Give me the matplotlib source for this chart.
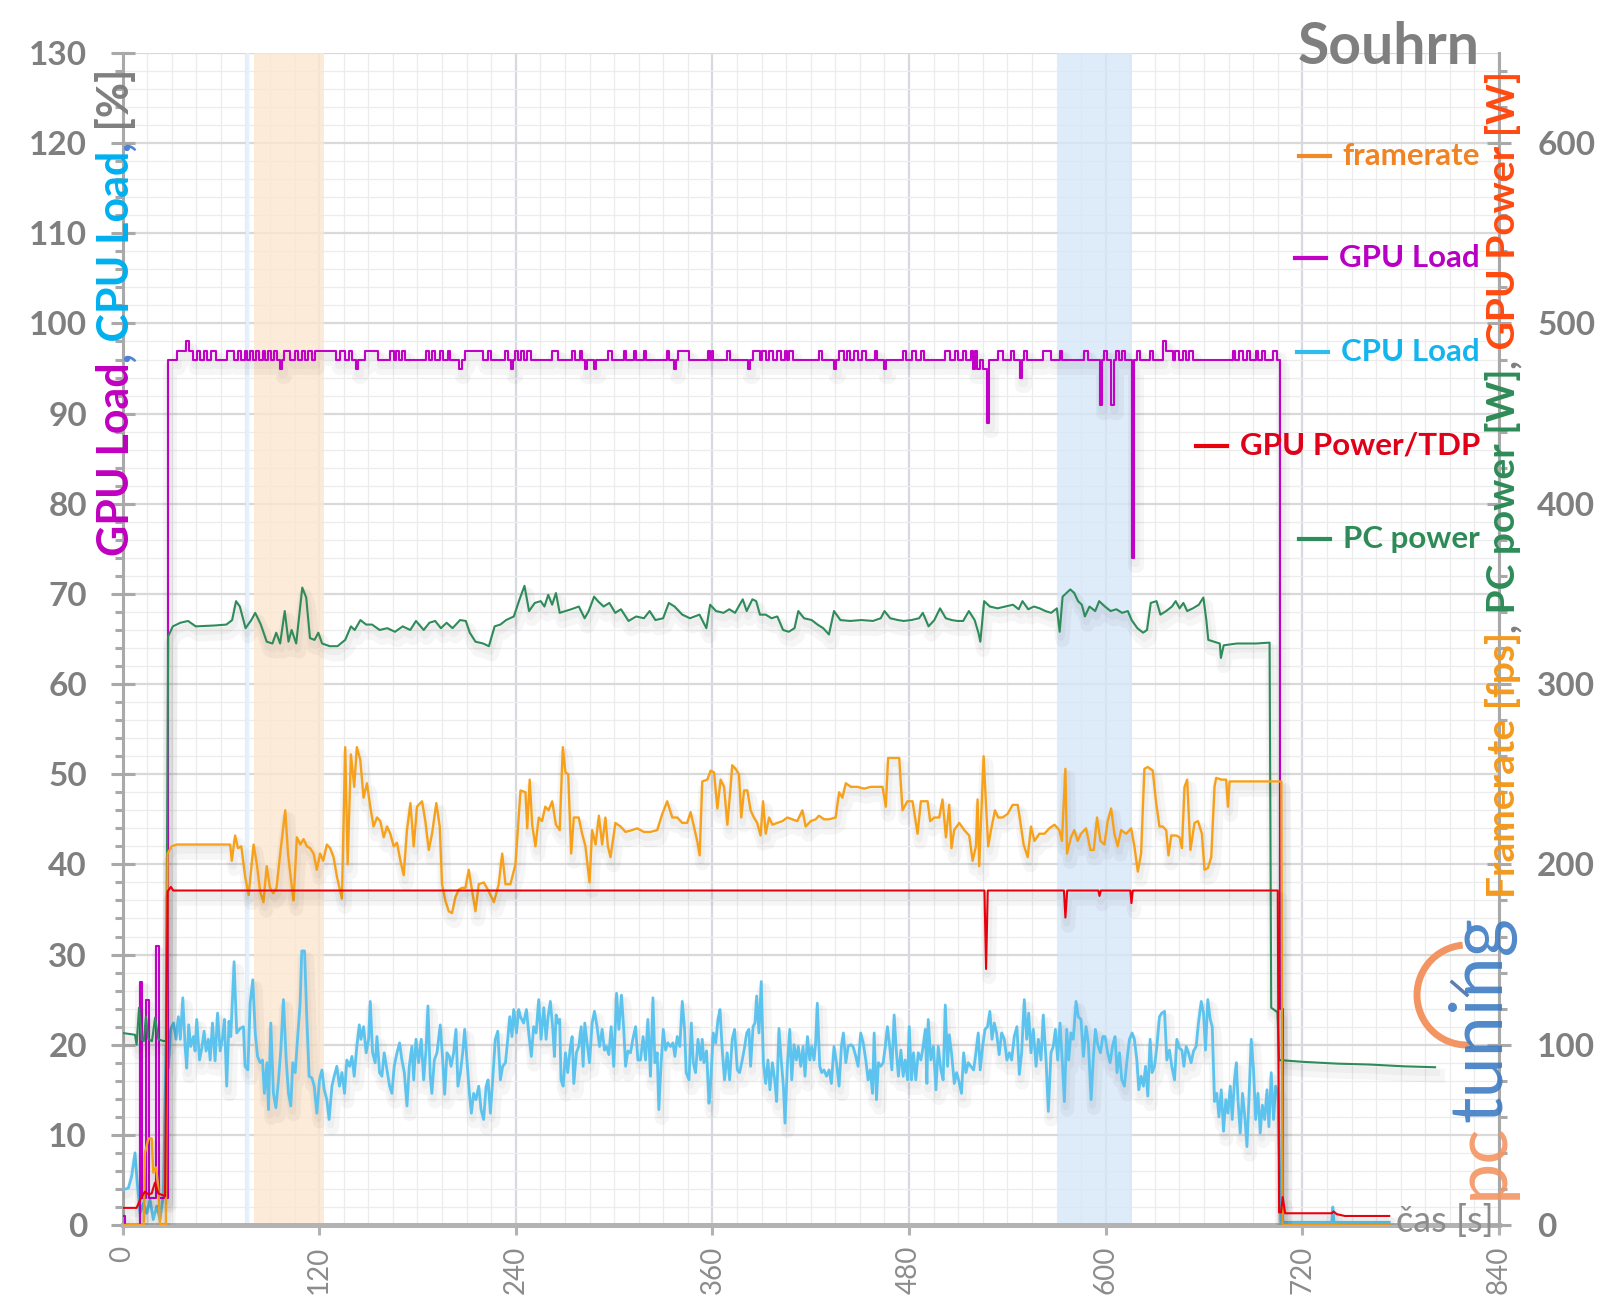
import numpy as np
import matplotlib
matplotlib.use("Agg")
import matplotlib.pyplot as plt
import matplotlib.patheffects as pe
from matplotlib.lines import Line2D
from matplotlib.patches import Arc
from matplotlib.ticker import MultipleLocator

plt.rcParams['font.family'] = ['Lato', 'DejaVu Sans']

# ---------------- data (time [s], value) ----------------
x_ticks = [0, 120, 240, 360, 480, 600, 720, 840]
left_ticks = list(range(0, 131, 10))
right_ticks = list(range(0, 601, 100))
band_orange = (80, 123)
band_blue = (571, 616)

# GPU load [%] (change points, held until next point)
gpu_load = [(0, 1), (1.5, 0), (10.5, 27), (12, 3), (14.5, 25), (16, 3), (20.5, 31), (22, 3), (27.5, 96),
    (33, 97), (38.5, 98), (40.5, 97), (43, 96), (45.5, 97), (47.5, 96), (49.5, 97), (51.5, 96), (54, 97), (57, 96),
    (64, 97), (68, 96), (70.5, 97), (72.5, 96), (74.5, 97), (76, 96), (78, 97), (79.5, 96), (81.5, 97), (83, 96),
    (85.5, 97), (87, 96), (89, 97), (90.5, 96), (92.5, 97), (94, 96), (96, 95), (97.5, 96), (98.5, 97), (102.5, 96),
    (105, 97), (107, 96), (109.5, 97), (111.5, 96), (113.5, 97), (115.5, 96), (117.5, 97), (130.5, 96), (132.5, 97),
    (136, 96), (138, 97), (140, 96), (142.5, 95), (144, 96), (148, 97), (156, 96),
    (163.5, 97), (165.5, 96), (167, 97), (168.5, 96), (170.5, 97), (172.5, 96),
    (185.5, 97), (187, 96), (189, 97), (190.5, 96), (194, 97), (195.5, 96), (198.5, 97), (200, 96), (205.5, 95),
    (207, 96), (209, 97), (220, 96), (223, 97), (225, 96),
    (233.5, 97), (235.5, 96), (237, 95), (238.5, 96), (239.5, 97), (241.5, 96), (243, 97), (245, 96), (247, 97), (249, 96),
    (262, 97), (266, 96), (274.5, 97), (276, 96), (279, 97), (280.5, 96), (282, 95), (283.5, 96), (287.5, 95), (289, 96),
    (296.5, 97), (298.5, 96), (306, 97), (307.5, 96), (312, 97), (313.5, 96), (318, 97), (319.5, 96), (332, 97),
    (333.5, 96), (336.5, 95), (338, 96), (339, 97), (346, 96),
    (357, 97), (358.5, 96), (359.5, 97), (360.5, 96), (369, 97), (371, 96), (381.5, 95), (383, 96), (385, 97), (389, 96),
    (390.5, 97), (392.5, 96), (394.5, 97), (397, 96), (399.5, 97), (402, 96), (404, 97), (405.5, 96), (407, 97), (409, 96),
    (425, 97), (427, 96), (434, 95), (435.5, 96), (437, 97), (440, 96), (442, 97), (444, 96), (446.5, 97), (449, 96),
    (451.5, 97), (453.5, 96), (459, 97), (460.5, 96), (464.5, 95), (466, 96),
    (476.5, 97), (478, 96), (482, 97), (484, 96), (487, 97), (489, 96),
    (502, 97), (505, 96), (508, 97), (510, 96), (513, 97), (515, 96), (517.5, 97), (519, 95), (520, 97), (521.5, 95),
    (523, 96), (525, 95), (527.5, 89), (529, 96), (534, 97), (537.5, 96), (542, 97), (544, 96), (547.5, 94), (549, 96),
    (550, 97), (552, 96), (562, 97), (566.5, 96), (572, 97), (573.5, 96), (586.5, 97), (589, 96), (596.5, 91), (598, 96),
    (599, 97), (601, 96), (603.5, 91), (605, 96), (606, 97), (608, 96), (610, 97), (612, 96), (616, 74), (617.5, 96),
    (619, 97), (621, 96), (627, 97), (629, 96), (635, 98), (637, 97), (641, 96), (642.5, 97), (645, 96), (647, 97),
    (649, 96), (651, 97), (653, 96), (677.5, 97), (679, 96), (681.5, 97), (683.5, 96), (686, 97), (688, 96),
    (691.5, 97), (693, 96), (695.5, 97), (697, 96), (702, 97), (704.5, 96), (706.5, 24), (708, 0), (773, 0)]

# CPU load [%]
cpu_load = [(0.5, 3.9), (3.6, 4.1), (5.6, 5.4), (7.6, 8.0), (9.0, 4.7), (10.7, 1.3), (12.7, 2.4), (14.8, 1.3),
    (16.8, 2.8), (18.8, 0.6), (20.9, 2.1), (22.9, 0.6), (25.0, 3.5), (26.6, 20.0), (28.0, 17.4), (29.4, 21.7),
    (31.1, 22.4), (32.7, 20.6), (34.1, 23.1), (35.3, 20.6), (36.8, 25.2), (38.2, 19.8), (39.2, 17.4), (40.4, 22.2),
    (41.6, 19.8), (43.3, 20.9), (44.3, 19.3), (45.3, 22.8), (47.0, 18.3), (48.4, 19.6), (49.8, 21.5), (51.0, 19.3),
    (52.4, 20.6), (53.5, 18.3), (54.9, 22.4), (56.5, 18.2), (58.0, 23.5), (59.6, 19.3), (61.0, 20.7), (62.2, 22.8),
    (63.6, 15.4), (65.0, 22.6), (66.1, 20.9), (68.1, 29.2), (69.7, 21.3), (71.8, 21.8), (73.8, 22.0), (74.8, 17.6),
    (76.5, 17.2), (77.9, 24.6), (79.5, 27.2), (81.0, 21.3), (82.4, 18.7), (84.0, 18.0), (85.4, 18.3), (86.6, 14.6),
    (88.1, 18.0), (89.1, 12.8), (90.5, 22.4), (92.1, 14.6), (93.6, 13.0), (95.2, 16.1), (96.6, 19.4), (98.2, 25.0),
    (99.9, 18.3), (101.3, 14.6), (102.7, 13.2), (103.9, 18.0), (105.4, 16.9), (106.8, 20.6), (108.4, 24.6),
    (109.4, 30.4), (111.1, 30.4), (112.5, 22.8), (113.9, 16.5), (115.6, 16.3), (117.0, 15.4), (118.6, 12.4),
    (120.2, 16.1), (121.7, 17.2), (123.1, 15.0), (124.7, 13.9), (126.1, 11.7), (127.8, 15.4), (129.2, 16.5),
    (130.8, 17.6), (132.4, 15.4), (133.9, 16.9), (135.5, 14.6), (136.9, 18.3), (138.6, 17.6), (140.0, 18.7),
    (141.4, 16.5), (143.0, 19.8), (144.5, 22.2), (145.5, 20.6), (147.1, 22.0), (148.7, 19.1), (150.2, 20.6),
    (151.2, 24.8), (152.6, 19.1), (154.2, 18.0), (155.3, 20.9), (156.9, 16.9), (158.3, 16.5), (159.7, 19.1),
    (161.4, 17.2), (163.0, 15.4), (164.4, 14.6), (165.8, 17.6), (167.5, 19.1), (169.1, 20.2), (170.5, 18.3),
    (172.0, 16.9), (173.6, 13.2), (175.0, 17.6), (176.6, 19.8), (177.7, 16.1), (179.1, 20.6), (180.7, 18.0),
    (182.3, 20.6), (183.8, 16.1), (185.2, 19.4), (186.4, 24.3), (187.8, 16.5), (188.8, 14.6), (190.3, 18.3),
    (191.9, 19.1), (193.9, 22.2), (195.4, 18.3), (196.6, 14.5), (198.0, 19.1), (199.4, 18.7), (200.5, 17.6),
    (202.1, 19.1), (203.5, 21.7), (204.7, 15.4), (206.2, 16.9), (207.6, 19.1), (208.8, 21.7), (210.2, 18.3),
    (211.7, 14.6), (212.9, 12.4), (214.3, 14.6), (215.7, 13.9), (217.4, 15.4), (218.8, 12.8), (220.4, 11.7),
    (221.9, 15.4), (223.1, 16.1), (224.5, 12.4), (225.9, 16.1), (227.5, 20.6), (229.0, 21.5), (230.6, 16.1),
    (232.0, 17.6), (233.7, 18.0), (235.1, 20.6), (236.3, 23.1), (237.7, 20.9), (238.7, 23.9), (240.4, 21.3),
    (241.8, 23.9), (242.8, 23.1), (244.8, 22.4), (246.5, 23.9), (247.9, 21.3), (249.5, 18.7), (250.9, 22.0),
    (252.4, 21.3), (254.0, 25.0), (255.4, 20.6), (257.1, 24.1), (258.5, 20.6), (259.7, 23.1), (261.1, 24.8),
    (262.6, 21.7), (263.6, 18.7), (264.6, 23.3), (265.8, 22.4), (266.8, 22.8), (267.6, 16.1), (268.9, 15.4),
    (270.3, 19.1), (271.7, 16.9), (273.3, 19.8), (274.4, 20.9), (275.4, 15.7), (277.0, 19.1), (278.4, 19.8),
    (279.9, 22.0), (281.1, 17.6), (282.1, 22.4), (283.5, 20.2), (285.0, 18.0), (286.6, 22.4), (288.0, 23.7),
    (289.6, 22.0), (291.1, 19.8), (292.7, 21.7), (294.1, 19.4), (295.3, 19.8), (296.8, 18.9), (298.2, 22.0),
    (299.8, 17.6), (301.5, 25.7), (302.9, 21.7), (304.5, 25.5), (305.9, 21.7), (307.0, 17.6), (308.4, 19.3),
    (310.0, 19.1), (311.4, 20.6), (313.1, 22.0), (314.5, 18.3), (316.1, 18.3), (317.7, 20.9), (319.2, 18.3),
    (320.6, 22.8), (322.2, 16.5), (323.7, 25.2), (324.9, 18.0), (326.3, 19.1), (327.3, 12.8), (328.7, 18.0),
    (330.0, 21.7), (331.4, 19.4), (332.8, 20.2), (334.4, 19.8), (335.9, 20.2), (337.1, 18.7), (338.5, 20.9),
    (340.1, 19.8), (341.6, 24.8), (343.0, 21.7), (344.0, 16.9), (345.7, 16.1), (347.1, 22.4), (348.3, 18.0),
    (349.7, 16.9), (351.2, 20.6), (352.8, 18.3), (353.8, 20.6), (354.8, 18.0), (356.4, 19.3), (357.9, 13.5),
    (358.9, 15.7), (360.5, 21.3), (362.0, 20.2), (363.4, 22.8), (364.6, 23.9), (366.0, 19.4), (367.4, 16.1),
    (369.0, 19.1), (370.5, 16.1), (372.1, 20.6), (373.5, 21.7), (375.2, 17.2), (376.6, 16.9), (378.2, 18.3),
    (379.7, 19.8), (380.9, 21.3), (382.3, 21.7), (383.3, 17.6), (384.8, 22.0), (386.0, 22.4), (387.0, 25.4),
    (388.4, 21.3), (389.8, 27.0), (391.1, 18.0), (392.5, 15.7), (393.9, 18.3), (395.1, 15.0), (396.6, 18.0),
    (398.0, 16.1), (399.2, 13.7), (400.6, 21.8), (402.1, 18.0), (403.3, 15.4), (404.3, 11.3), (405.7, 17.6),
    (407.2, 21.7), (408.4, 16.1), (409.8, 20.0), (411.2, 18.3), (412.4, 19.8), (413.9, 17.6), (415.3, 19.8),
    (416.5, 16.5), (418.0, 20.9), (419.4, 18.3), (420.6, 19.8), (422.0, 18.3), (423.0, 20.2), (424.0, 24.6),
    (425.5, 17.6), (426.7, 16.9), (428.1, 17.2), (429.6, 16.5), (431.2, 17.2), (432.6, 15.7), (434.2, 19.8),
    (435.7, 18.0), (437.3, 15.4), (438.7, 19.8), (439.9, 21.3), (441.4, 18.0), (442.8, 19.8), (444.4, 20.0),
    (445.8, 19.8), (447.5, 18.7), (448.9, 17.6), (450.5, 21.3), (452.0, 20.2), (453.6, 18.3), (455.0, 16.1),
    (456.3, 17.2), (457.7, 14.6), (458.7, 21.3), (460.1, 13.9), (461.3, 18.0), (462.7, 17.6), (464.2, 18.0),
    (465.5, 19.8), (466.8, 22.0), (468.2, 19.8), (469.5, 17.2), (470.9, 23.3), (472.3, 19.1), (473.5, 16.5),
    (475.0, 19.4), (476.4, 16.5), (477.6, 18.3), (479.1, 16.1), (480.1, 22.0), (481.5, 16.1), (482.7, 19.1),
    (484.1, 16.1), (485.6, 19.1), (487.2, 18.3), (488.6, 19.8), (489.9, 21.7), (490.9, 15.7), (491.7, 22.8),
    (493.3, 18.3), (494.9, 19.8), (496.4, 15.0), (497.8, 19.8), (499.4, 17.2), (500.8, 16.1), (502.1, 24.4),
    (503.5, 17.6), (504.5, 21.1), (505.9, 19.1), (507.6, 15.7), (509.0, 16.9), (510.2, 16.1), (512.0, 14.6),
    (513.3, 19.1), (514.7, 16.9), (516.1, 18.0), (517.7, 17.6), (519.4, 17.2), (520.8, 19.1), (522.2, 21.3),
    (523.4, 17.2), (524.9, 19.8), (526.3, 21.7), (527.9, 22.0), (529.3, 23.7), (530.6, 20.6), (532.0, 22.4),
    (533.4, 21.3), (535.0, 18.9), (536.5, 21.3), (538.1, 20.6), (539.7, 18.3), (541.2, 19.1), (542.6, 18.3),
    (544.2, 20.9), (545.8, 22.0), (547.3, 16.7), (548.7, 19.1), (550.3, 25.0), (551.8, 20.6), (553.0, 23.5),
    (554.4, 19.1), (555.8, 21.7), (557.5, 17.6), (558.9, 20.6), (560.5, 18.3), (561.9, 23.3), (563.6, 18.3),
    (565.0, 12.6), (566.6, 19.1), (568.0, 19.8), (569.3, 21.7), (570.7, 18.3), (572.1, 22.4), (573.7, 17.6),
    (574.8, 13.7), (576.2, 21.7), (577.4, 18.3), (578.8, 21.3), (580.2, 20.6), (581.9, 24.8), (583.3, 23.1),
    (584.9, 22.8), (586.4, 18.7), (588.0, 22.0), (589.4, 20.2), (591.1, 13.9), (592.5, 18.7), (593.7, 21.7),
    (595.1, 20.0), (596.8, 19.1), (598.2, 20.9), (599.6, 20.9), (601.2, 19.1), (602.7, 18.0), (604.3, 20.0),
    (605.7, 20.9), (606.9, 16.9), (608.4, 19.1), (609.8, 16.1), (611.4, 15.4), (613.0, 18.3), (614.5, 20.6),
    (616.1, 21.3), (617.5, 20.6), (619.0, 18.3), (620.2, 15.0), (621.6, 16.5), (623.0, 15.4), (624.3, 17.6),
    (625.7, 14.3), (627.1, 20.6), (628.3, 16.9), (629.8, 17.6), (631.2, 19.8), (632.8, 23.1), (634.2, 23.5),
    (635.9, 23.7), (637.3, 18.3), (638.9, 19.4), (640.3, 17.6), (642.0, 16.1), (643.4, 20.6), (645.0, 19.6),
    (646.5, 19.4), (647.7, 17.6), (649.1, 19.8), (650.5, 19.1), (652.1, 18.0), (653.6, 19.3), (655.2, 19.8),
    (656.6, 22.4), (658.3, 24.8), (659.7, 23.5), (660.9, 19.4), (662.3, 25.0), (663.8, 22.8), (665.0, 22.0),
    (666.4, 13.7), (667.8, 14.6), (669.1, 12.0), (670.5, 15.0), (671.9, 10.4), (673.3, 13.9), (674.6, 12.4),
    (676.0, 15.4), (677.2, 11.7), (678.6, 16.1), (679.7, 18.0), (680.7, 13.9), (682.1, 10.2), (683.5, 14.6),
    (684.7, 12.4), (686.2, 8.7), (687.4, 13.9), (688.8, 20.6), (690.2, 17.2), (691.5, 11.7), (692.9, 14.6),
    (694.3, 10.2), (695.6, 13.3), (697.0, 11.7), (698.4, 15.0), (699.6, 10.9), (701.0, 16.9), (702.4, 11.7),
    (703.7, 15.4), (705.1, 14.6), (706.8, 0.3), (738.0, 0.3), (738.6, 2.0), (739.3, 0.3), (773.0, 0.3)]

# framerate [fps]
framerate = [(0, 0), (13, 0), (13.7, 40), (15.8, 48), (17.8, 48), (18.8, 29), (20.5, 32), (21.9, 20), (22.9, 0),
    (26.5, 0), (27.5, 206), (30, 210), (33, 211), (65.7, 211), (66.7, 202), (68.7, 216), (70.5, 209), (72.5, 210),
    (74.9, 193), (77, 183), (80, 211), (82, 200), (84, 185), (86, 179), (88, 199), (90, 187), (92, 184), (94, 187),
    (96, 204), (99.3, 230), (101, 206), (103.4, 187), (104.4, 180), (106.4, 215), (108.5, 211), (110.5, 214),
    (112.5, 210), (114.5, 209), (116.6, 206), (118.6, 197), (120.6, 206), (122.5, 202), (124.7, 211), (126.7, 209),
    (128.8, 204), (130.9, 193), (133.9, 181), (135.9, 265), (137.4, 200), (139.4, 261), (141.4, 243), (143, 265),
    (145.1, 258), (147.1, 237), (149.2, 245), (151.2, 232), (153.2, 221), (155.3, 226), (157.3, 224), (159.4, 215),
    (161.4, 221), (163.4, 217), (165.5, 210), (167.5, 212), (169.6, 202), (171.6, 194), (173.6, 219), (175.7, 234),
    (177.7, 210), (179.7, 232), (182.8, 235), (184.8, 224), (186.9, 208), (188.9, 217), (191.5, 234), (193.6, 221),
    (195, 189), (197, 180), (199.1, 174), (201.1, 173), (203.2, 182), (205.2, 186), (207.2, 187), (209.3, 187),
    (211.3, 197), (213.4, 185), (215.4, 174), (217.4, 189), (220.5, 190), (223.5, 185), (226.6, 179), (229.6, 189),
    (231.7, 206), (233.7, 189), (236.7, 189), (239.8, 200), (242.9, 241), (245.9, 240), (247, 220), (248.5, 247),
    (250, 222), (252, 210), (254, 226), (256, 224), (258, 232), (260, 230), (262.2, 235), (264.5, 222),
    (266.8, 219), (268.7, 265), (270.3, 251), (272, 250), (273.8, 206), (275.4, 226), (278.4, 226), (280.5, 217),
    (282.5, 210), (285, 190), (286.6, 219), (288.7, 211), (290.7, 227), (292.7, 211), (294.7, 226), (296.2, 210),
    (297.8, 204), (300.8, 223), (303.9, 221), (307, 218), (311, 219), (314.1, 220), (318.2, 218), (322.2, 218),
    (326.3, 219), (329.4, 228), (332.4, 235), (335.5, 226), (338.5, 226), (341.6, 223), (344.6, 223), (346.7, 229),
    (348.7, 221), (350.7, 213), (352.2, 205), (353.8, 246), (356.9, 247), (358.9, 252), (361, 251), (363, 231),
    (365, 247), (367.1, 243), (369.1, 222), (371.1, 243), (372.1, 255), (374.1, 253), (376.2, 250), (377.6, 226),
    (379.3, 241), (381.3, 241), (383.3, 230), (385.3, 226), (387.3, 223), (389.4, 216), (390.9, 235), (392.5, 217),
    (394.6, 226), (396.6, 222), (399.6, 223), (402.7, 224), (405.7, 226), (408.7, 225), (411.8, 224), (414.9, 230),
    (416.9, 221), (420, 224), (423, 225), (425, 227), (428.1, 225), (431.2, 225), (435.2, 226), (437.3, 240),
    (439.3, 237), (441.4, 245), (444.5, 243), (448.5, 243), (452.6, 242), (456.7, 243), (460.7, 243), (463.8, 243),
    (465.8, 232), (467.2, 259), (470, 259), (474, 259), (476, 230), (479, 235), (482.1, 235), (485.2, 217),
    (487.2, 235), (489.3, 235), (491.3, 235), (492.9, 224), (495.4, 226), (498.4, 226), (500.4, 236), (502.5, 215),
    (504.5, 233), (505.9, 209), (507.5, 219), (510.6, 223), (513.7, 219), (516.7, 216), (518.8, 202), (520.8, 210),
    (521.8, 236), (522.8, 199), (525.5, 260), (526.9, 234), (528.3, 210), (530, 219), (532.4, 230), (534.4, 226),
    (537.1, 226), (540.1, 228), (543.2, 233), (546.3, 233), (548, 223), (549.9, 211), (552.4, 204), (554.4, 221),
    (556.5, 213), (559.5, 217), (562.6, 217), (565.6, 220), (568.7, 222), (571.7, 219), (573.3, 213), (575.4, 253),
    (576.4, 206), (578.8, 215), (580.8, 219), (582.9, 213), (584.9, 217), (588, 220), (590.7, 208), (592.7, 208),
    (594.7, 226), (596.8, 213), (599.2, 211), (601.2, 224), (603.3, 231), (605.3, 217), (607.3, 210), (609.4, 219),
    (612.5, 217), (615.5, 220), (617.5, 210), (619.6, 196), (621.6, 206), (623.6, 253), (625.7, 254), (628.7, 252),
    (630.8, 234), (632.8, 221), (634.8, 221), (636.9, 219), (638.3, 205), (640, 216), (643.1, 216), (645.1, 215),
    (646.5, 209), (648.1, 243), (649.7, 247), (651.7, 208), (654.2, 223), (656.3, 224), (658.7, 217), (660.3, 197),
    (662.4, 198), (664.4, 204), (666.4, 243), (667.4, 248), (670.5, 247), (673.5, 247), (674.6, 232), (675.6, 246),
    (680, 246), (707.2, 246), (708, 0), (773, 0)]

# GPU power [W]
gpu_power = [(0, 9.5), (8.6, 9.5), (10.7, 14), (13.7, 18.5), (15.8, 17), (17.8, 17.5), (19.8, 23.5), (21.9, 17.5),
    (26, 16), (27.5, 185), (29.5, 187.5), (31, 185.5), (526, 185.5), (527, 142), (528, 185.5), (574.5, 185.5),
    (575.4, 170.5), (576.5, 185.5), (595.5, 185.5), (596.2, 182.5), (597, 185.5), (615, 185.5), (615.7, 178.5),
    (616.5, 185.5), (705, 185.5), (705.8, 7), (707, 7), (708, 15.5), (709.5, 6.5), (738, 6.5), (739, 7.5),
    (741, 6), (746, 5), (773, 5)]

# PC power [W]
pc_power = [(0, 106.5), (7.6, 105.5), (8.6, 100), (10.1, 120.5), (11.7, 103), (13, 102), (14.3, 115.5), (15.8, 103),
    (18, 102), (19.9, 115), (21.9, 103), (25, 102), (26.5, 102), (27.9, 326.5), (30.7, 332), (35.3, 334), (40, 335),
    (44.7, 332), (56.4, 332.5), (63.4, 333), (66.9, 335.5), (69.3, 346), (71.6, 343), (75.1, 331), (78.6, 335.5),
    (81, 339.5), (84.4, 333), (88, 323.5), (91.5, 322.5), (93.8, 328.5), (96.2, 322.5), (99, 340.5), (101.3, 323.5),
    (103.2, 330), (106, 322.5), (109.7, 353.5), (112.1, 348), (114.4, 325.5), (117.2, 324.5), (119.5, 328.5),
    (121.8, 322.5), (126.5, 321), (131.2, 321), (135.9, 324.5), (139.4, 332), (141.7, 330), (145.2, 335.5),
    (148.7, 333), (152.3, 333), (156.9, 330), (161.6, 331), (166.3, 329), (171, 332), (175.6, 330), (179.1, 335),
    (183.8, 330), (187.3, 334), (190.8, 335), (194.3, 331), (197.8, 334), (201.4, 331), (206, 335.5), (209.5, 335),
    (211.9, 328.5), (215.4, 323.5), (220.1, 322.5), (223.6, 321), (227.1, 332), (230.6, 333), (234.1, 335.5),
    (238.8, 337.5), (242.3, 347), (245.3, 354.5), (248.1, 340.5), (251.6, 345), (255.2, 346), (257.5, 343),
    (259.8, 349.5), (262.2, 344), (264.5, 350.5), (266.8, 339.5), (270.3, 340.5), (273.9, 341.5), (278.5, 343),
    (282, 336.5), (284.5, 340.5), (287.8, 348.5), (290.1, 346), (293.6, 343), (297.1, 345), (300.7, 339.5),
    (304.2, 341.5), (308.8, 335), (313.5, 337.5), (318.2, 336.5), (321.7, 340.5), (325.2, 335.5), (329.9, 336.5),
    (333.4, 345), (336.9, 343), (341.6, 338.5), (346.3, 336.5), (352.1, 338.5), (356.3, 331), (358.6, 344),
    (362.2, 340.5), (366.8, 339.5), (370.3, 341.5), (373.8, 339.5), (378.5, 347), (380.9, 340.5), (384.4, 347),
    (386.7, 346), (389, 338.5), (392.5, 338.5), (396.1, 336.5), (399.6, 337.5), (403.1, 330), (406.6, 329),
    (410.1, 331), (412.4, 340.5), (415.9, 336.5), (420.6, 335.5), (424.1, 333), (427.6, 331), (431.1, 327.5),
    (434.2, 340.5), (438.1, 335.5), (444, 335), (451, 335.5), (458, 335), (462.7, 336.5), (465, 340.5),
    (468.5, 336.5), (473.2, 335.5), (476.7, 335), (481.4, 335.5), (486.1, 336.5), (488.4, 339.5), (491.9, 332),
    (495.4, 335.5), (498.9, 342), (502.4, 336.5), (506, 335.5), (509.5, 335), (513, 335), (516.5, 340.5),
    (520, 335.5), (522.3, 328.5), (523.5, 323.5), (525.8, 346), (529.3, 343), (534, 342), (538.7, 343),
    (543.4, 344), (546.9, 341.5), (549.2, 346), (552.7, 341.5), (556.2, 343), (559.7, 342), (563.2, 340.5),
    (566.7, 339.5), (570.2, 342), (571.9, 329), (573.7, 348.5), (576.1, 350.5), (578.4, 352.5), (580.8, 350.5),
    (583.1, 346), (585.4, 344), (587.3, 337.5), (590.1, 343), (593.6, 340.5), (596, 346), (599.5, 343),
    (603, 340.5), (606.5, 341.5), (610, 339.5), (613.5, 340.5), (615.8, 335.5), (619.3, 331), (622.8, 328.5),
    (625.2, 330), (627.5, 345), (631, 346), (633.4, 338.5), (636.9, 340.5), (640.4, 343), (642.7, 346),
    (645.1, 342), (647.4, 345), (649.7, 340.5), (653.2, 342), (656.8, 344), (659.6, 348), (661.4, 335.5),
    (662.6, 324.5), (666.1, 323.5), (669.6, 322.5), (670.3, 314.5), (672, 321.5), (680.1, 322.5), (691.8, 322.5),
    (700, 323), (701, 120.5), (704.8, 118), (705.8, 91.5), (720, 90.5), (741, 89.5), (761, 89), (782, 88),
    (801, 87.5)]

legend_labels = ["framerate", "GPU Load", "CPU Load", "GPU Power/TDP", "PC power"]

# ---------------- styling ----------------
C_GPU = '#c200c8'
C_CPU = '#5bc3ee'
C_FPS = '#f7a11a'
C_GPW = '#e8000c'
C_PCP = '#2e8b5a'
GRAY = '#7f7f7f'
SPINE = '#a9a9a9'

W, H = 1600, 1313
fig = plt.figure(figsize=(16, 13.13), dpi=100)
fig.patch.set_facecolor('white')
x0, x1, yb, yt = 122.5, 1499.0, 1225.0, 53.0
ax = fig.add_axes([x0 / W, 1 - yb / H, (x1 - x0) / W, (yb - yt) / H])
ax.set_xlim(0, 840)
ax.set_ylim(0, 130)
ax2 = ax.twinx()
ax2.set_ylim(0, 650)

# grid
ax.set_axisbelow(True)
ax.xaxis.set_major_locator(plt.FixedLocator(x_ticks))
ax.xaxis.set_minor_locator(MultipleLocator(15))
ax.yaxis.set_major_locator(plt.FixedLocator(left_ticks))
ax.yaxis.set_minor_locator(MultipleLocator(2))
ax.grid(which='minor', color='#ececec', lw=0.9, zorder=0)
ax.grid(which='major', axis='y', color='#d9d9d9', lw=1.6, zorder=0)
ax.grid(which='major', axis='x', color='#d7d9e0', lw=1.6, zorder=0)

# highlighted bands
ax.axvspan(*band_orange, color='#fde6d0', alpha=0.8, lw=0, zorder=1)
ax.axvspan(*band_blue, color='#d6e6f8', alpha=0.8, lw=0, zorder=1)
ax.axvline(76, color='#e4f0fb', lw=2.5, zorder=1)

shadow = [pe.SimpleLineShadow(offset=(2, -6), shadow_color='#000000', alpha=0.035, linewidth=10),
          pe.SimpleLineShadow(offset=(1, -4), shadow_color='#000000', alpha=0.03, linewidth=5),
          pe.Normal()]


def unzip(pairs):
    return [p[0] for p in pairs], [p[1] for p in pairs]


t, v = unzip(cpu_load)
ax.plot(t, v, color=C_CPU, lw=2.0, zorder=3, path_effects=shadow, solid_joinstyle='round')
t, v = unzip(gpu_load)
ax.plot(t, v, color=C_GPU, lw=1.5, zorder=4, drawstyle='steps-post', path_effects=shadow)
t, v = unzip(pc_power)
ax2.plot(t, v, color=C_PCP, lw=1.5, zorder=3, path_effects=shadow)
t, v = unzip(framerate)
ax2.plot(t, v, color=C_FPS, lw=1.7, zorder=4, path_effects=shadow)
t, v = unzip(gpu_power)
ax2.plot(t, v, color=C_GPW, lw=1.5, zorder=5, path_effects=shadow)

# spines and ticks
for s in ['top', 'right']:
    ax.spines[s].set_visible(False)
for s in ['top', 'left', 'bottom']:
    ax2.spines[s].set_visible(False)
ax.spines['left'].set_color(SPINE)
ax.spines['left'].set_linewidth(2.2)
ax.spines['bottom'].set_color('#b3b3b3')
ax.spines['bottom'].set_linewidth(3.6)
ax2.spines['right'].set_color(SPINE)
ax2.spines['right'].set_linewidth(2.2)

ax.tick_params(axis='y', which='major', direction='inout', length=17, width=2.2, color=SPINE,
               labelsize=24, labelcolor=GRAY, pad=17)
ax.tick_params(axis='y', which='minor', direction='out', length=6, width=2.2, color=SPINE)
ax.tick_params(axis='x', which='major', direction='out', length=7, width=2.2, color='#b3b3b3',
               labelsize=20, labelcolor='#8c8c8c', labelrotation=90, pad=8)
ax.tick_params(axis='x', which='minor', length=0)
ax.set_xticklabels([str(x) for x in x_ticks])
ax.set_yticklabels([str(y) for y in left_ticks], fontweight='bold')

ax2.yaxis.set_major_locator(plt.FixedLocator(right_ticks))
ax2.yaxis.set_minor_locator(MultipleLocator(20))
ax2.tick_params(axis='y', which='major', direction='inout', length=17, width=2.2, color=SPINE,
                labelsize=24, labelcolor=GRAY, pad=19)
ax2.tick_params(axis='y', which='minor', direction='out', length=6, width=2.2, color=SPINE)
ax2.set_yticklabels([str(y) for y in right_ticks], fontweight='bold')

fig.canvas.draw()
renderer = fig.canvas.get_renderer()


def stacked(xpx, ybottom_px, pieces, size, weight='bold', alpha=1.0):
    y = ybottom_px
    for s, c in pieces:
        tx = fig.text(xpx / W, y / H, s, rotation=90, rotation_mode='anchor', ha='left', va='center',
                      color=c, fontsize=size, fontweight=weight, zorder=10, alpha=alpha)
        bb = tx.get_window_extent(renderer)
        y = bb.y1


# axis titles (multicoloured)
stacked(116, H - 556, [("GPU Load", '#c000c0'), (",", '#4a82d8'), (" CPU Load", '#00b0f0'),
                       (",", '#4a82d8'), (" [%]", GRAY)], 31)
stacked(1503, H - 898, [("Framerate [fps]", '#f39a1e'), (",", GRAY), (" PC power [W]", '#2e8b57'),
                        (",", GRAY), (" GPU Power [W]", '#ff4a10')], 28)

# title
fig.text(1480 / W, 1 - 48 / H, "Souhrn", ha='right', va='center', fontsize=41, fontweight='bold', color=GRAY)

# legend
leg_colors_text = ['#f08424', '#b800c4', '#14b4ec', '#e0001a', '#2e8b57']
leg_colors_line = ['#f08a28', C_GPU, '#2fbdf0', C_GPW, C_PCP]
leg_y = [156, 258, 352, 446, 539]
for lab, ct, cl, yy in zip(legend_labels, leg_colors_text, leg_colors_line, leg_y):
    tx = fig.text(1480 / W, 1 - yy / H, lab, ha='right', va='center', fontsize=22.5, fontweight='bold', color=ct)
    bb = tx.get_window_extent(renderer)
    xl = bb.x0 - 13
    fig.add_artist(Line2D([(xl - 31) / W, xl / W], [1 - yy / H, 1 - yy / H], color=cl, lw=3.0,
                          transform=fig.transFigure))

# x axis title
fig.text(1494 / W, 1 - 1221 / H, "čas [s]", ha='right', va='center', fontsize=26, color='#8c8c8c')

# logo (approximate)
stacked(1482, H - 1199, [("pc", '#f39562'), ("tuning", '#3d7cc4')], 53, weight='normal', alpha=0.9)
arc = Arc((14.67, 13.13 - 9.95), 1.0, 1.0, theta1=95, theta2=275, color='#f39562', lw=5,
          transform=fig.dpi_scale_trans)
fig.add_artist(arc)
fig.add_artist(Line2D([14.67, 14.52], [13.13 - 9.95, 13.13 - 9.82], color='#5a7fb0', lw=2.5,
                      transform=fig.dpi_scale_trans))

fig.savefig('out.png', dpi=100, facecolor='white')
